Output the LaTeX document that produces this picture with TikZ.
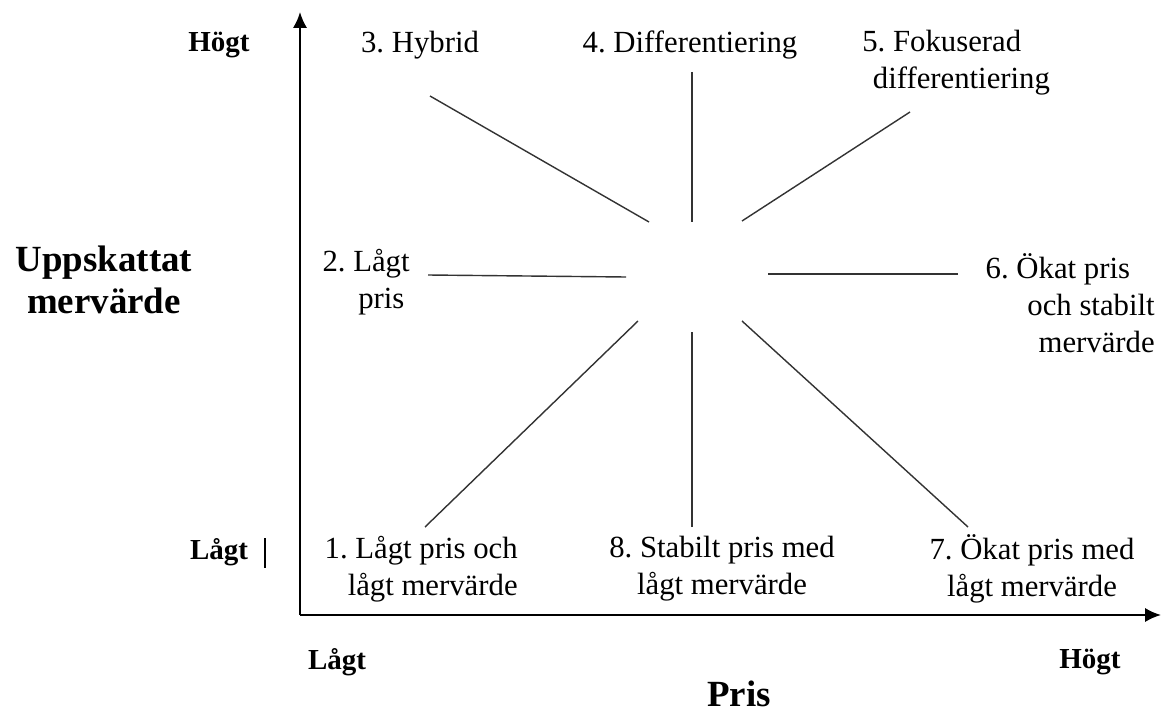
\documentclass[tikz,border=0pt]{standalone}
\usepackage{fontspec}
\setmainfont{Liberation Serif}
\usepackage{tikz}
\usetikzlibrary{arrows.meta,positioning}
\frenchspacing
\tikzstyle{axis} = [line width=1.2pt,-{Latex[length=9pt,width=8pt]}]
\tikzstyle{spoke} = [line width=0.8pt,black!80]
\tikzstyle{strat} = [font=\fontsize{17.5}{21}\selectfont,align=center,inner sep=0pt]
\tikzstyle{lvl} = [font=\fontsize{16.5}{20}\selectfont\bfseries,inner sep=0pt]
\tikzstyle{axlabel} = [font=\fontsize{21}{24}\selectfont\bfseries,align=center,inner sep=0pt]

\begin{document}
\begin{tikzpicture}[x=0.02cm, y=-0.02cm]
        \useasboundingbox (0,0) rectangle (1162,713);
        % axes
        \coordinate (o) at (300,615);
        \coordinate (ytop) at (300,12);
        \coordinate (xend) at (1161,615);
        \draw[axis] (o) -- (ytop);
        \draw[axis] (o) -- (xend);
        
        \node[lvl] (yhi) at (219,45) {Högt};
        \node[lvl] (ylo) at (219,552) {Lågt};
        \node[lvl] (xlo) at (337,662) {Lågt};
        \node[lvl] (xhi) at (1090,662) {Högt};
        \coordinate (tick1) at (265,538);
        \coordinate (tick2) at (265,568);
        \draw[line width=1.5pt] (tick1) -- (tick2);
        \node[axlabel] (ylab) at (104,280) {Uppskattat\\mervärde};
        \node[axlabel] (xlab) at (739,694) {Pris};
        
        % strategies
        \node[strat] (s3) at (420,45) {3. Hybrid};
        \node[strat] (s4) at (690,45) {4. Differentiering};
        \node[strat, align=left, anchor=west] (s5) at (862,63) {5. Fokuserad\\\hspace*{6pt}differentiering};
        \node[strat, align=right, anchor=east] (s2) at (410,282) {2. Lågt\\pris\hspace*{3pt}};
        \node[strat, align=right, anchor=east] (s6) at (1155,303) {6. Ökat pris\hspace*{14pt}\\och stabilt\\mervärde};
        \node[strat, align=right, anchor=east] (s1) at (518,569) {1. Lågt pris och\\lågt mervärde};
        \node[strat] (s8) at (722,569) {8. Stabilt pris med\\lågt mervärde};
        \node[strat] (s7) at (1032,569) {7. Ökat pris med\\lågt mervärde};
        
        % spokes
        \coordinate (a3) at (430,96);   \coordinate (b3) at (649,222);
        \coordinate (a4) at (692,72);   \coordinate (b4) at (692,222);
        \coordinate (a5) at (910,112);  \coordinate (b5) at (742,221);
        \coordinate (a2) at (428,275);  \coordinate (b2) at (626,277);
        \coordinate (a6) at (958,274);  \coordinate (b6) at (768,274);
        \coordinate (a1) at (425,527);  \coordinate (b1) at (638,321);
        \coordinate (a8) at (692,527);  \coordinate (b8) at (692,332);
        \coordinate (a7) at (968,527);  \coordinate (b7) at (742,321);
        \foreach \k in {1,...,8}
            \draw[spoke] (a\k) -- (b\k);
    \end{tikzpicture}
\end{document}
